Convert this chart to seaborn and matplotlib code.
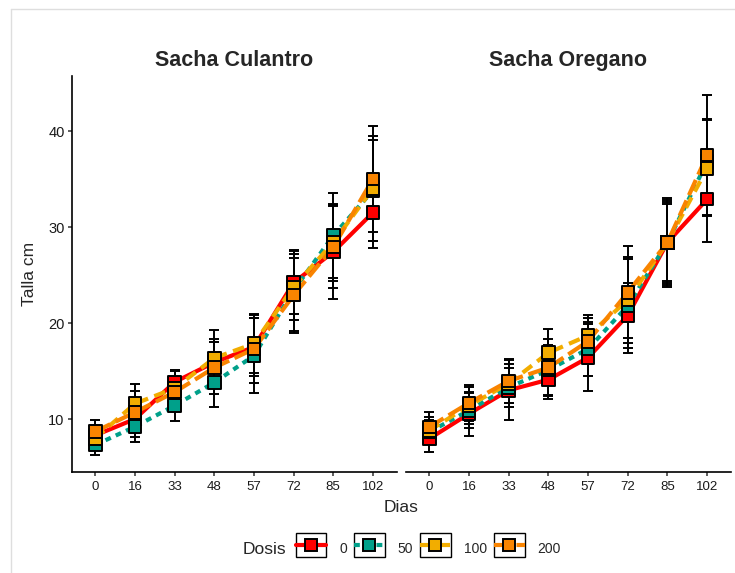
import numpy as np
import pandas as pd
import matplotlib
matplotlib.use("Agg")
import matplotlib.pyplot as plt
from matplotlib.lines import Line2D
from matplotlib.patches import Rectangle
from matplotlib.legend_handler import HandlerLine2D
import seaborn as sns

# ---------------- data ----------------
days = ["0", "16", "33", "48", "57", "72", "85", "102"]
doses = ["0", "50", "100", "200"]
facets = ["Sacha Culantro", "Sacha Oregano"]

# Sacha Culantro: means
cul_0 = [8.3, 10.0, 13.85, 15.9, 17.5, 24.2, 27.4, 31.5]
cul_50 = [7.3, 9.2, 11.4, 13.8, 16.6, 23.4, 29.1, 33.8]
cul_100 = [8.0, 11.6, 13.2, 16.35, 17.85, 23.75, 28.4, 34.0]
cul_200 = [8.7, 10.7, 12.8, 15.35, 17.3, 22.9, 27.9, 35.0]
# Sacha Culantro: standard deviations
cul_0_sd = [1.0, 1.9, 1.3, 2.4, 3.0, 3.3, 4.9, 3.7]
cul_50_sd = [1.0, 1.6, 1.6, 2.5, 3.9, 4.2, 4.4, 5.3]
cul_100_sd = [1.1, 2.0, 1.8, 2.9, 3.1, 3.4, 4.0, 5.5]
cul_200_sd = [1.2, 2.2, 1.6, 2.7, 3.5, 3.9, 4.3, 5.5]

# Sacha Oregano: means
ore_0 = [7.95, 10.55, 13.0, 14.1, 16.4, 20.8, 28.4, 32.9]
ore_50 = [8.65, 10.9, 13.3, 15.1, 17.3, 21.8, 28.4, 36.8]
ore_100 = [8.8, 11.4, 13.7, 16.9, 18.7, 22.4, 28.4, 36.1]
ore_200 = [9.17, 11.67, 13.96, 15.35, 18.1, 23.2, 28.4, 37.5]
# Sacha Oregano: standard deviations
ore_0_sd = [1.4, 2.3, 3.1, 2.0, 3.5, 3.4, 4.0, 4.5]
ore_50_sd = [1.2, 1.8, 2.0, 2.6, 2.8, 4.9, 4.2, 4.4]
ore_100_sd = [1.4, 1.9, 2.0, 2.5, 2.1, 4.5, 4.4, 5.0]
ore_200_sd = [1.6, 1.9, 2.3, 3.0, 2.4, 4.8, 4.6, 6.3]

means = {
    "Sacha Culantro": [cul_0, cul_50, cul_100, cul_200],
    "Sacha Oregano": [ore_0, ore_50, ore_100, ore_200],
}
sds = {
    "Sacha Culantro": [cul_0_sd, cul_50_sd, cul_100_sd, cul_200_sd],
    "Sacha Oregano": [ore_0_sd, ore_50_sd, ore_100_sd, ore_200_sd],
}

rows = []
for f in facets:
    for di, d in enumerate(doses):
        for k, day in enumerate(days):
            rows.append(dict(facet=f, Dias=day, pos=k, Dosis=d,
                             mean=means[f][di][k], sd=sds[f][di][k]))
df = pd.DataFrame(rows)

# ---------------- style ----------------
palette = {"0": "#FF0000", "50": "#00A08A", "100": "#F2AD00", "200": "#F98400"}
dash_map = {"0": "", "50": (1.4, 1.3), "100": (2.8, 1.6), "200": (4.0, 1.4)}
LW = 3.0

sns.set_theme(style="white")
plt.rcParams["font.family"] = ["Liberation Sans", "DejaVu Sans"]

W, H = 735, 573
fig = plt.figure(figsize=(W / 100, H / 100), dpi=100)
fig.patch.set_facecolor("white")

top_px, bot_px = 76, 472.3
axes_px = [(71.5, 396.7), (405.5, 731.0)]
axes = []
for (l, r) in axes_px:
    ax = fig.add_axes([l / W, 1 - bot_px / H, (r - l) / W, (bot_px - top_px) / H])
    axes.append(ax)

for ax, f in zip(axes, facets):
    sub = df[df.facet == f]
    sns.lineplot(data=sub, x="pos", y="mean", hue="Dosis", style="Dosis",
                 hue_order=doses, style_order=doses, palette=palette,
                 dashes=dash_map, linewidth=LW, legend=False, ax=ax,
                 errorbar=None, zorder=2)
    for d in doses:
        s = sub[sub.Dosis == d]
        ax.errorbar(s["pos"], s["mean"], yerr=s["sd"], fmt="none",
                    ecolor="black", elinewidth=1.4, capsize=3.6,
                    capthick=1.4, zorder=3)
    sns.scatterplot(data=sub, x="pos", y="mean", hue="Dosis",
                    hue_order=doses, palette=palette, marker="s", s=82,
                    edgecolor="black", linewidth=1.4, legend=False, ax=ax,
                    zorder=4)
    ax.set_xlim(-0.6, 7.6)
    ax.set_ylim(4.45, 45.73)
    ax.set_xticks(range(len(days)))
    ax.set_xticklabels(days)
    ax.set_yticks([10, 20, 30, 40])
    ax.set_xlabel("")
    ax.set_ylabel("")
    ax.set_title(f, fontsize=15.5, fontweight="bold", pad=7)
    ax.set_facecolor("white")
    for sp in ["top", "right"]:
        ax.spines[sp].set_visible(False)
    ax.spines["bottom"].set_linewidth(1.2)
    ax.spines["left"].set_linewidth(1.2)
    ax.spines["bottom"].set_color("black")
    ax.spines["left"].set_color("black")
    ax.tick_params(axis="x", length=3, width=1.1, color="#333333",
                   labelsize=9.5, labelcolor="#1a1a1a", pad=3, bottom=True)
    ax.tick_params(axis="y", length=3, width=1.1, color="#333333",
                   labelsize=10.5, labelcolor="#1a1a1a", pad=2, left=True)

axes[1].spines["left"].set_visible(False)
axes[1].tick_params(axis="y", left=False, labelleft=False)

fig.text(30 / W, 1 - 274 / H, "Talla cm", rotation=90, ha="center",
         va="center", fontsize=12.5)
fig.text(401 / W, 1 - 508 / H, "Dias", ha="center", va="center",
         fontsize=12.5)


# ---------------- legend ----------------
class BoxedHandler(HandlerLine2D):
    def create_artists(self, legend, orig_handle, xdescent, ydescent,
                       width, height, fontsize, trans):
        arts = super().create_artists(legend, orig_handle, xdescent,
                                      ydescent, width, height, fontsize,
                                      trans)
        ymid = (height - ydescent) / 2
        rect = Rectangle((-xdescent, ymid - height / 2), width, height,
                         fill=True, facecolor="white", edgecolor="black",
                         linewidth=1.0, transform=trans)
        return [rect] + list(arts)


handles = []
for d in doses:
    h = Line2D([], [], color=palette[d], linewidth=LW, marker="s",
               markersize=9, markerfacecolor=palette[d],
               markeredgecolor="black", markeredgewidth=1.4)
    if dash_map[d]:
        h.set_dashes(dash_map[d])
    handles.append(h)

leg = fig.legend(handles, doses, loc="center left",
                 bbox_to_anchor=(295.5 / W, 1 - 549 / H), ncol=4,
                 frameon=False, fontsize=10, handlelength=2.2,
                 handleheight=2.35, handletextpad=0.95, columnspacing=0.5,
                 borderpad=0, borderaxespad=0, numpoints=1,
                 handler_map={Line2D: BoxedHandler()})
fig.text(243 / W, 1 - 549 / H, "Dosis", ha="left", va="center",
         fontsize=12.5)

# light frame of the screenshot
fig.add_artist(Line2D([10.5 / W, 10.5 / W], [0, 1 - 9 / H],
                      transform=fig.transFigure, color="#dedede", lw=1))
fig.add_artist(Line2D([10.5 / W, 1], [1 - 9 / H, 1 - 9 / H],
                      transform=fig.transFigure, color="#dedede", lw=1))

fig.savefig("out.png", dpi=100, facecolor="white")
